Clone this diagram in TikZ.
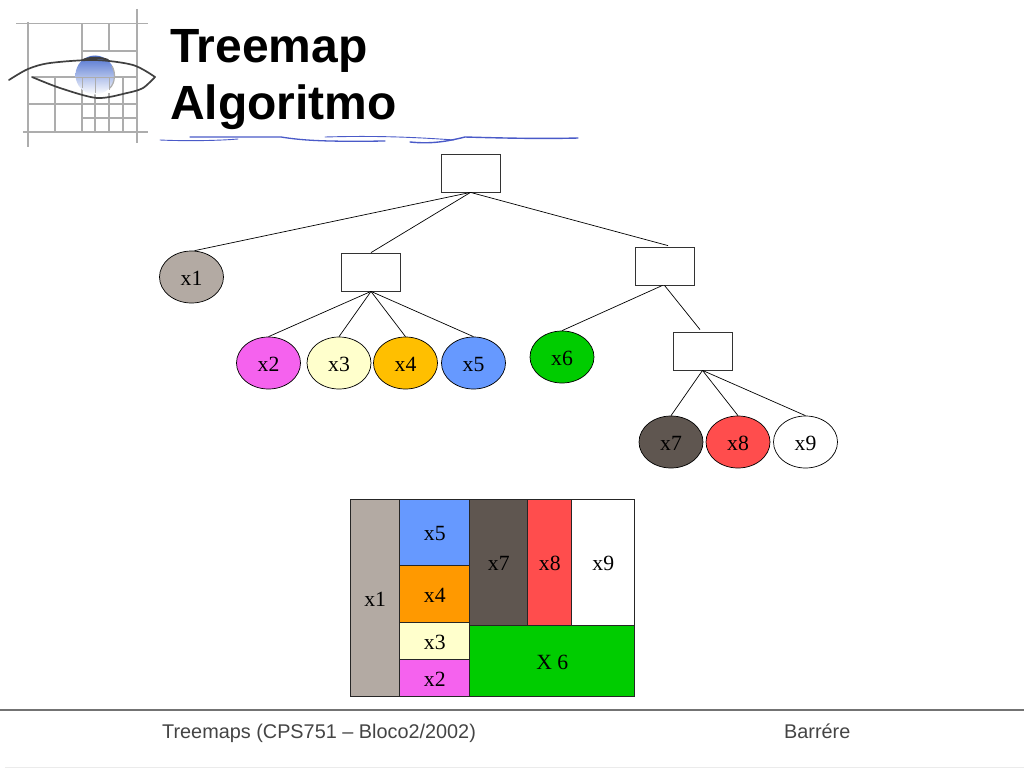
\documentclass[tikz,border=0pt]{standalone}
\usepackage{fontspec}
\setmainfont{Liberation Serif}
\newfontfamily\headfont{Liberation Sans}
\usetikzlibrary{shapes.geometric}
\definecolor{cxa}{HTML}{B3AAA3}
\definecolor{cxb}{HTML}{F562EE}
\definecolor{cxc}{HTML}{FFFFCC}
\definecolor{cxd}{HTML}{FF9900}
\definecolor{cxdd}{HTML}{FFBF00}
\definecolor{cxe}{HTML}{6699FF}
\definecolor{cxf}{HTML}{00CC00}
\definecolor{cxg}{HTML}{5F5650}
\definecolor{cxh}{HTML}{FF4D4D}
\definecolor{gridc}{HTML}{ADADAD}
\definecolor{lidc}{HTML}{404040}
\definecolor{inkblue}{HTML}{4A5AC8}
\definecolor{irisc}{HTML}{4F72D0}
\definecolor{irism}{HTML}{9DB4EA}
\definecolor{foot}{HTML}{444444}
\tikzset{
  x=1pt,y=-1pt,
  leaf/.style={draw=black,line width=.7pt,shape=ellipse,inner sep=0pt,minimum width=64pt,minimum height=52pt,font=\fontsize{21.7}{22}\selectfont,text height=16.4pt,text depth=0pt},
  inner box/.style={draw=black!80,line width=.8pt,fill=white,minimum width=59pt,minimum height=38pt,inner sep=0pt},
  edge line/.style={draw=black,line width=.7pt},
  cell/.style={draw=black!85,line width=.8pt,inner sep=0pt,font=\fontsize{21.7}{22}\selectfont,text height=17.4pt,text depth=0pt},
  title text/.style={font=\headfont\bfseries\fontsize{48}{48}\selectfont,anchor=base west,inner sep=0pt},
  foot text/.style={font=\headfont\fontsize{19.85}{20}\selectfont,text=foot,anchor=base west,inner sep=0pt},
  grid line/.style={draw=gridc,line width=1.1pt},
  lid/.style={draw=lidc,line width=1.7pt,line cap=round},
  ink/.style={draw=inkblue,line width=.9pt,line cap=round},
}
\begin{document}
\begin{tikzpicture}
\useasboundingbox (0,0) rectangle (1024,768);
% logo
\foreach \a/\b/\c/\d in {16/23.5/148/23.5, 23/132/148/132, 28/22/28/147, 137/9/137/143, 82/23.5/82/132, 109/23.5/109/51, 82/51/137/51, 82/104/137/104, 28/104/82/104, 55/77/55/132, 82/118/137/118, 109/93/109/132, 95/93/95/132, 123/77/123/132, 33/77/76/77, 114/77/137/77}
  \draw[grid line] (\a,\b) -- (\c,\d);
\shade[top color=irisc,middle color=irism,bottom color=white,draw=none] (95,75) circle (19.5);
\draw[draw=gridc,line width=1pt] (95,77) -- (95,93) (76,77) -- (114,77) (109,77) -- (109,90) (82,77) -- (82,88);
\draw[lid,line width=2pt] (83,60) .. controls (90,57) and (100,57) .. (108,60);
\draw[draw=gridc,line width=1.2pt] (112,66) .. controls (116,73) and (115,83) .. (110,88);
\draw[lid] plot[smooth] coordinates {(9,80) (28,69) (50,63) (95,60) (133,65) (155,77)};
\draw[lid] plot[smooth] coordinates {(32,77) (60,88) (97,98) (127,93) (143,88) (155,77)};
% title
\node[title text] (t1) at (170,62.5) {Treemap};
\node[title text] (t2) at (170,119.5) {Algoritmo};
\draw[ink] (160,140) .. controls (180,141) and (215,141) .. (238,139);
\draw[ink,line width=1.3pt] (190,137) -- (281,137) .. controls (300,140) and (320,142) .. (385,141);
\draw[ink] (325,137) .. controls (360,136) and (400,136) .. (454,140);
\draw[ink,line width=1.4pt] (410,142) .. controls (430,144) and (445,142) .. (465,137) .. controls (500,138) and (540,139) .. (578,138);
% tree
\node[inner box] (root) at (470.5,173) {};
\node[inner box] (boxA) at (371,272) {};
\node[inner box] (boxB) at (664.5,266) {};
\node[inner box] (boxC) at (702.5,351) {};
\node[leaf,fill=cxa] (e1) at (191.5,277) {x1};
\node[leaf,fill=cxb] (e2) at (268.5,363) {x2};
\node[leaf,fill=cxc] (e3) at (339,363) {x3};
\node[leaf,fill=cxdd] (e4) at (405.5,363) {x4};
\node[leaf,fill=cxe] (e5) at (473.5,363) {x5};
\node[leaf,fill=cxf] (e6) at (562,357) {x6};
\node[leaf,fill=cxg] (e7) at (671,442) {x7};
\node[leaf,fill=cxh] (e8) at (738,442) {x8};
\node[leaf,fill=white] (e9) at (805.5,442) {x9};
\draw[edge line] (root.south) -- ([xshift=3pt]e1.north);
\draw[edge line] (root.south) -- (boxA.north);
\draw[edge line] (root.south) -- ([xshift=3.5pt,yshift=1pt]boxB.north);
\draw[edge line] (boxA.south) -- (e2.north);
\draw[edge line] (boxA.south) -- (e3.north);
\draw[edge line] (boxA.south) -- (e4.north);
\draw[edge line] (boxA.south) -- (e5.north);
\draw[edge line] ([xshift=-2pt]boxB.south) -- (e6.north);
\draw[edge line] (boxB.south) -- ([xshift=-2.5pt,yshift=2pt]boxC.north);
\draw[edge line] (boxC.south) -- (e7.north);
\draw[edge line] (boxC.south) -- (e8.north);
\draw[edge line] (boxC.south) -- (e9.north);
% treemap
\node[cell,fill=cxa,minimum width=49pt,minimum height=197pt] (r1) at (375.2,597.5) {x1};
\node[cell,fill=cxe,minimum width=70pt,minimum height=66pt] (r5) at (434.8,532) {x5};
\node[cell,fill=cxd,minimum width=70pt,minimum height=57pt] (r4) at (434.8,593.5) {x4};
\node[cell,fill=cxc,minimum width=70pt,minimum height=37pt] (r3) at (434.8,640.5) {x3};
\node[cell,fill=cxb,minimum width=70pt,minimum height=37pt] (r2) at (434.8,677.5) {x2};
\node[cell,fill=cxg,minimum width=58pt,minimum height=126pt] (r7) at (498.8,562) {x7};
\node[cell,fill=cxh,minimum width=44pt,minimum height=126pt] (r8) at (549.8,562) {x8};
\node[cell,fill=white,minimum width=63pt,minimum height=126pt] (r9) at (603.3,562) {x9};
\node[cell,fill=cxf,minimum width=165pt,minimum height=71pt] (r6) at (552.3,660.5) {X 6};
% footer
\draw[draw=black!55,line width=1.8pt] (0,710) -- (1024,710);
\draw[draw=black!8,line width=.8pt] (5,767) -- (1024,767);
\node[foot text] (f1) at (162,738) {Treemaps (CPS751 – Bloco2/2002)};
\node[foot text] (f2) at (784,738) {Barrére};
\end{tikzpicture}
\end{document}
